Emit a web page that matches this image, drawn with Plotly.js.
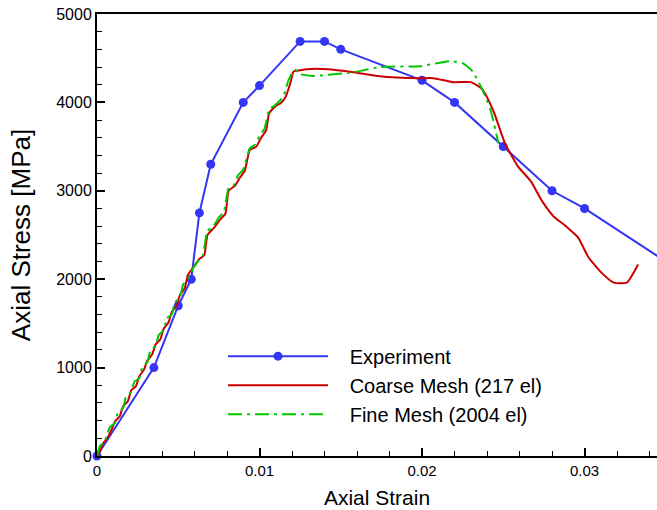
<!DOCTYPE html>
<html>
<head>
<meta charset="utf-8">
<script src="https://cdn.plot.ly/plotly-3.0.1.min.js"></script>
<style>html,body{margin:0;padding:0;background:#fff;}#chart{width:657px;height:510px;}</style>
</head>
<body>
<div id="chart"></div>
<script>
// Experiment
const expStrain = [0, 0.0035, 0.005, 0.0058, 0.0063, 0.007, 0.009, 0.010, 0.0125, 0.014, 0.015, 0.020, 0.022, 0.025, 0.028, 0.030, 0.035];
const expStress = [0, 1000, 1700, 2000, 2750, 3300, 4000, 4190, 4690, 4690, 4600, 4250, 4000, 3500, 3000, 2800, 2200];

// Coarse Mesh (217 el)
const coarseStrain = [0, 0.0002, 0.0004, 0.0006, 0.0009, 0.0011, 0.0014, 0.0016, 0.0019, 0.0021, 0.0024, 0.0026, 0.0029, 0.0031, 0.0034, 0.0036, 0.0039, 0.0041, 0.0044, 0.0046, 0.0049, 0.0051, 0.0054, 0.0056, 0.0060, 0.0063, 0.0066, 0.0068, 0.0072, 0.0076, 0.0079, 0.0081, 0.0085, 0.0088, 0.0091, 0.0094, 0.0098, 0.0101, 0.0104, 0.0106, 0.0110, 0.0113, 0.0116, 0.0119, 0.0121, 0.0124, 0.0129, 0.0142, 0.0158, 0.0174, 0.0199, 0.0207, 0.0219, 0.0230, 0.0237, 0.0244, 0.0251, 0.0259, 0.0267, 0.0274, 0.0281, 0.0288, 0.0296, 0.03025, 0.0311, 0.0318, 0.0326, 0.0333];
const coarseStress = [0, 60, 150, 190, 300, 390, 450, 560, 620, 740, 790, 900, 980, 1080, 1150, 1260, 1320, 1440, 1510, 1630, 1700, 1820, 1900, 2050, 2150, 2230, 2270, 2500, 2580, 2680, 2740, 3000, 3060, 3150, 3230, 3460, 3500, 3600, 3680, 3880, 3960, 3990, 4060, 4220, 4350, 4360, 4376, 4376, 4342, 4297, 4274, 4274, 4229, 4229, 4150, 3900, 3540, 3277, 3107, 2880, 2710, 2608, 2472, 2245, 2063, 1961, 1961, 2166];

// Fine Mesh (2004 el)
const fineStrain = [0, 0.0002, 0.0004, 0.0006, 0.0008, 0.0011, 0.0013, 0.0016, 0.0018, 0.0021, 0.0023, 0.0026, 0.0028, 0.0031, 0.0033, 0.0036, 0.0038, 0.0041, 0.0043, 0.0046, 0.0048, 0.0051, 0.0053, 0.0056, 0.0059, 0.0062, 0.0065, 0.0068, 0.0071, 0.0075, 0.0078, 0.0081, 0.0084, 0.0087, 0.0090, 0.0094, 0.0097, 0.0100, 0.0103, 0.0106, 0.0109, 0.0112, 0.0115, 0.0118, 0.0122, 0.0125, 0.0133, 0.0158, 0.0174, 0.0199, 0.02175, 0.0225, 0.0231, 0.0237, 0.0242, 0.0247];
const fineStress = [0, 120, 140, 230, 330, 370, 500, 540, 680, 720, 840, 880, 1010, 1060, 1200, 1240, 1370, 1420, 1560, 1600, 1740, 1790, 1940, 2000, 2120, 2200, 2260, 2550, 2580, 2700, 2760, 3030, 3060, 3180, 3240, 3480, 3520, 3620, 3700, 3920, 3960, 4010, 4080, 4260, 4370, 4320, 4300, 4342, 4400, 4410, 4467, 4444, 4354, 4150, 3923, 3540];

const NB = '\u00a0\u00a0\u00a0';
const data = [
  {x: expStrain, y: expStress, name: NB + 'Experiment', type: 'scatter', mode: 'lines+markers',
   line: {color: '#3535f5', width: 2}, marker: {color: '#3535f5', size: 9}, cliponaxis: false},
  {x: coarseStrain, y: coarseStress, name: NB + 'Coarse Mesh (217 el)', type: 'scatter', mode: 'lines',
   line: {color: '#cc0000', width: 2, shape: 'spline', smoothing: 0.5}},
  {x: fineStrain, y: fineStress, name: NB + 'Fine Mesh (2004 el)', type: 'scatter', mode: 'lines',
   line: {color: '#00c800', width: 2, dash: '14px,5px,3px,5px', shape: 'spline', smoothing: 0.5}}
];

const layout = {
  width: 657, height: 510,
  margin: {l: 97, r: 0, t: 14, b: 54},
  paper_bgcolor: '#fff', plot_bgcolor: '#fff',
  font: {family: 'Liberation Sans, Arial, sans-serif', color: '#000'},
  showlegend: true,
  legend: {x: 0.225, y: 0.27, xanchor: 'left', yanchor: 'top', bgcolor: 'rgba(0,0,0,0)',
           font: {size: 20, color: '#000'}, itemwidth: 100, tracegroupgap: 0},
  xaxis: {
    range: [0, 0.03446], showgrid: false, zeroline: false,
    showline: true, linecolor: '#000', linewidth: 2, mirror: true,
    ticks: 'inside', ticklen: 8, tickwidth: 2, tickcolor: '#000',
    tickvals: [0, 0.01, 0.02, 0.03], ticktext: ['0', '0.01', '0.02', '0.03'],
    minor: {ticks: 'inside', ticklen: 5, tickwidth: 1, tickcolor: '#000', dtick: 0.002, tick0: 0},
    tickfont: {size: 15},
    title: {text: 'Axial Strain', font: {size: 21}, standoff: 12}
  },
  yaxis: {
    range: [0, 5000], showgrid: false, zeroline: false,
    showline: true, linecolor: '#000', linewidth: 2,
    ticks: 'inside', ticklen: 8, tickwidth: 2, tickcolor: '#000',
    tickvals: [0, 1000, 2000, 3000, 4000, 5000],
    minor: {ticks: 'inside', ticklen: 5, tickwidth: 1, tickcolor: '#000', dtick: 200, tick0: 0},
    tickfont: {size: 16},
    title: {text: 'Axial Stress [MPa]', font: {size: 26}, standoff: 18}
  }
};

Plotly.newPlot('chart', data, layout, {staticPlot: true});
</script>
</body>
</html>
